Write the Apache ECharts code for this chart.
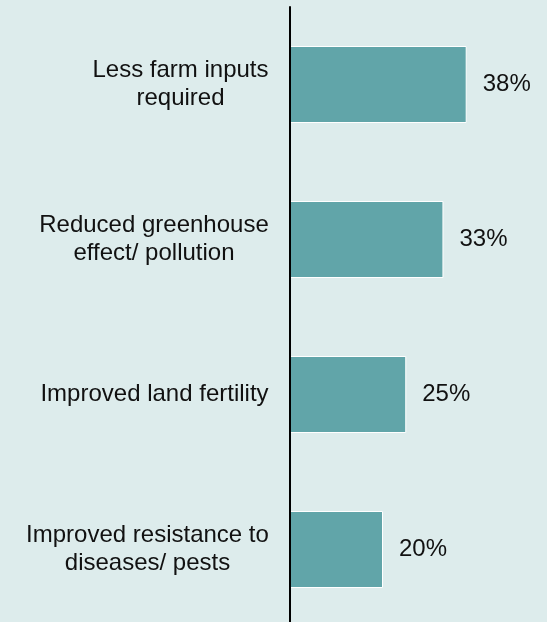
<!DOCTYPE html>
<html>
<head>
<meta charset="utf-8">
<script src="https://cdn.jsdelivr.net/npm/echarts@6/dist/echarts.min.js"></script>
<style>
html,body{margin:0;padding:0;background:#ddecec;overflow:hidden;}
#chart{width:547px;height:627px;}
</style>
</head>
<body>
<div id="chart"></div>
<script>
const categories = [
  "Less farm inputs\nrequired",
  "Reduced greenhouse\neffect/ pollution",
  "Improved land fertility",
  "Improved resistance to\ndiseases/ pests"
];
const values = [38, 33, 25, 20];

const FONT_SIZE = 24;
const FONT_FAMILY = '"Liberation Sans", Arial, sans-serif';
const ctx = document.createElement('canvas').getContext('2d');
ctx.font = FONT_SIZE + 'px ' + FONT_FAMILY;
const rich = {};
categories.forEach((c, i) => {
  const w = Math.max(...c.split('\n').map(l => ctx.measureText(l).width));
  rich['c' + i] = {width: Math.ceil(w), align: 'center', fontSize: FONT_SIZE, lineHeight: 28, fontFamily: FONT_FAMILY, color: '#111'};
});

const chart = echarts.init(document.getElementById('chart'), null, {renderer: 'canvas'});
chart.setOption({
  backgroundColor: '#ddecec',
  animation: false,
  grid: {left: 290, right: 24.5, top: 7, bottom: 0, containLabel: false},
  xAxis: {type: 'value', min: 0, max: 50, show: false},
  yAxis: {
    type: 'category',
    data: categories,
    inverse: true,
    z: 5,
    axisLine: {show: true, lineStyle: {color: '#000', width: 2}},
    axisTick: {show: false},
    splitLine: {show: false},
    axisLabel: {
      margin: 21,
      fontSize: FONT_SIZE,
      lineHeight: 28,
      fontFamily: FONT_FAMILY,
      color: '#111',
      rich: rich,
      formatter: function (value, index) {
        return value.split('\n').map(l => '{c' + index + '|' + l + '}').join('\n');
      }
    }
  },
  series: [{
    type: 'bar',
    data: values,
    barWidth: 77,
    itemStyle: {color: '#61a5a9', borderColor: '#ffffff', borderWidth: 1},
    label: {
      show: true,
      position: 'right',
      distance: 16,
      formatter: '{c}%',
      fontSize: FONT_SIZE,
      fontFamily: FONT_FAMILY,
      color: '#111'
    }
  }]
});
</script>
</body>
</html>
